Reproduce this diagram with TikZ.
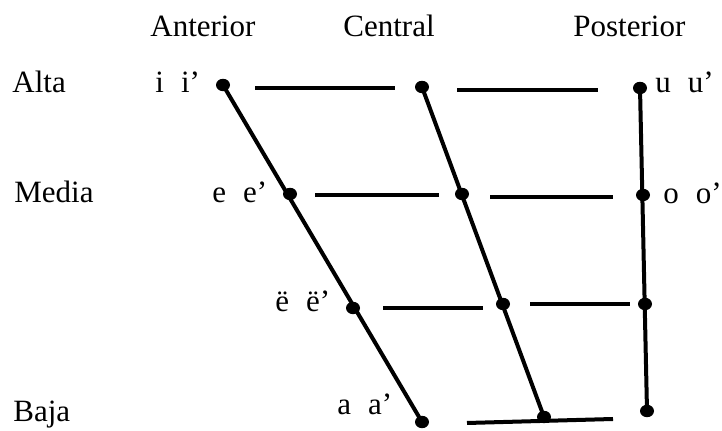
\documentclass[tikz,border=0pt]{standalone}
\usepackage{fontspec}
\setmainfont{Liberation Serif}
\usetikzlibrary{shapes.geometric}
\begin{document}
\begin{tikzpicture}[x=0.5pt,y=-0.5pt,
  lbl/.style={anchor=base west,inner sep=0pt,font=\fontsize{15.5}{18}\selectfont},
  vdot/.style={ellipse,fill=black,draw=none,inner sep=0pt,minimum width=7pt,minimum height=6.2pt},
  seg/.style={line width=2pt}]
\useasboundingbox (0,0) rectangle (722,431);
% column headings
\node[lbl] (hA) at (150,37) {Anterior};
\node[lbl] (hC) at (343,37) {Central};
\node[lbl] (hP) at (573,37) {Posterior};
% row headings
\node[lbl] (rAl) at (12,93) {Alta};
\node[lbl] (rMe) at (14,203) {Media};
\node[lbl] (rBa) at (13,422) {Baja};
% vowel labels
\node[lbl] (vi) at (155,93) {i\hspace{0.55em}i’};
\node[lbl] (vu) at (655,93) {u\hspace{0.55em}u’};
\node[lbl] (ve) at (212,203) {e\hspace{0.55em}e’};
\node[lbl] (vo) at (663,204) {o\hspace{0.55em}o’};
\node[lbl] (ve2) at (275,312) {ë\hspace{0.55em}ë’};
\node[lbl] (va) at (337,415) {a\hspace{0.55em}a’};
% dots
\node[vdot] (i) at (223,85) {};
\node[vdot] (c1) at (422,87) {};
\node[vdot] (u) at (640,88) {};
\node[vdot] (e) at (290,194) {};
\node[vdot] (c2) at (462,194) {};
\node[vdot] (o) at (643,195) {};
\node[vdot] (ee) at (353,308) {};
\node[vdot] (c3) at (503,304) {};
\node[vdot] (p3) at (645,304) {};
\node[vdot] (a) at (422,422) {};
\node[vdot] (c4) at (544,417) {};
\node[vdot] (p4) at (647,411) {};
% main lines
\draw[seg] (i.center) -- (a.center);
\draw[seg] (c1.center) -- (c4.center);
\draw[seg] (u.center) -- (p4.center);
% horizontal segments
\coordinate (t1a) at (255,88);
\coordinate (t1b) at (395,88);
\coordinate (t2a) at (457,90);
\coordinate (t2b) at (598,90);
\coordinate (m1a) at (315,195);
\coordinate (m1b) at (439,195);
\coordinate (m2a) at (490,197);
\coordinate (m2b) at (613,197);
\coordinate (l1a) at (383,308);
\coordinate (l1b) at (483,308);
\coordinate (l2a) at (530,304);
\coordinate (l2b) at (630,304);
\coordinate (b1a) at (467,423);
\coordinate (b1b) at (613,419);
\draw[seg] (t1a) -- (t1b);
\draw[seg] (t2a) -- (t2b);
\draw[seg] (m1a) -- (m1b);
\draw[seg] (m2a) -- (m2b);
\draw[seg] (l1a) -- (l1b);
\draw[seg] (l2a) -- (l2b);
\draw[seg] (b1a) -- (b1b);
\end{tikzpicture}
\end{document}
